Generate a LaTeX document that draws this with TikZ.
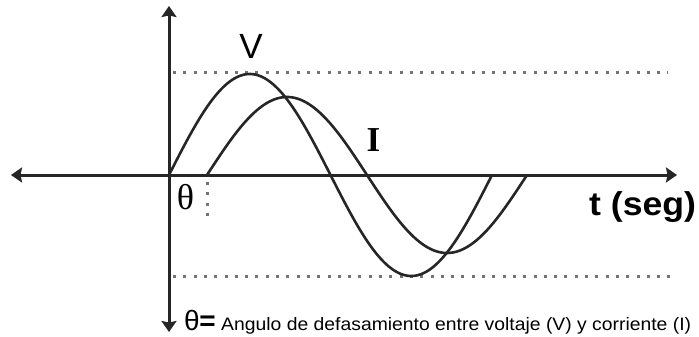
\documentclass[tikz,border=0pt]{standalone}
\usepackage{fontspec}
\setmainfont{Liberation Serif}
\newfontfamily\arial{Liberation Sans}
\usetikzlibrary{arrows.meta}
\tikzset{
  axisline/.style={line width=3pt, draw=black!85,
    {Stealth[length=11pt,width=15pt,inset=1.5pt]}-{Stealth[length=11pt,width=15pt,inset=1.5pt]}},
  dotline/.style={draw=black!55, line width=3pt, dash pattern=on 3pt off 7.3pt},
  wave/.style={line width=2.6pt, draw=black!85, line join=round},
  lbl/.style={inner sep=0pt, text=black}
}
\begin{document}
\begin{tikzpicture}[x=1pt,y=-1pt]
\useasboundingbox (0,0) rectangle (699,337);
% axes
\coordinate (xl) at (11,175);
\coordinate (xr) at (677,175);
\coordinate (yt) at (169,6);
\coordinate (yb) at (169,332);
% dotted guides
\coordinate (ta) at (173,73);
\coordinate (tb) at (668,73);
\coordinate (ba) at (173,276);
\coordinate (bb) at (672,276);
\coordinate (da) at (207,182);
\coordinate (db) at (207,216);
\draw[dotline] (ta) -- (tb);
\draw[dotline] (ba) -- (bb);
\draw[dotline] (da) -- (db);
% waves
\draw[wave] plot[domain=0:360,samples=150] ({169+0.897222*\x},{175-101*sin(\x)});
\draw[wave] plot[domain=0:360,samples=150] ({207+0.888889*\x},{175-78*sin(\x)});
\draw[axisline] (xl) -- (xr);
\draw[axisline] (yt) -- (yb);
% labels
\node[lbl, font=\arial\fontsize{35}{35}\selectfont] (V) at (251,46.5) {V};
\node[lbl, font=\bfseries\fontsize{35}{35}\selectfont] (I) at (373.5,140.5) {I};
\node[lbl, font=\fontsize{36}{36}\selectfont] (th) at (185.5,197) {θ};
\node[lbl, font=\arial\bfseries\fontsize{33}{33}\selectfont, anchor=base west] (t) at (589,215) {\scalebox{1.08}[1]{t (seg)}};
\node[lbl, font=\arial\fontsize{28}{28}\selectfont, anchor=base west] (eq) at (184,330) {θ\kern-0.5pt\textbf{=}};
\node[lbl, font=\arial\fontsize{18}{18}\selectfont, anchor=base west] (desc) at (221,330) {\scalebox{1.075}[1]{Angulo de defasamiento entre voltaje (V) y corriente (I)}};
\end{tikzpicture}
\end{document}
